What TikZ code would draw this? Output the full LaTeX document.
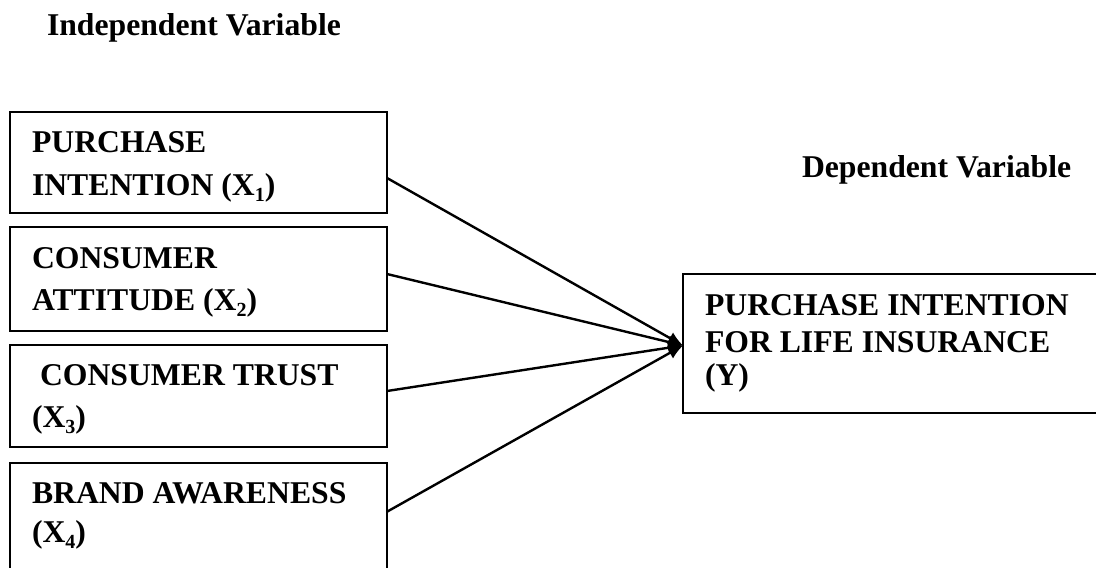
\documentclass[tikz,border=0pt]{standalone}
\usepackage{fontspec}
\setmainfont{Liberation Serif}
\usetikzlibrary{arrows.meta}
\newcommand{\subidx}[1]{\raisebox{-0.2em}{\fontsize{20}{20}\selectfont #1}}
\tikzset{
  varbox/.style={draw, line width=2pt, inner sep=0pt, outer sep=0pt, anchor=north west},
  lbl/.style={anchor=base west, inner sep=0pt, outer sep=0pt, font=\bfseries\fontsize{31.7}{38}\selectfont},
  link/.style={line width=2.4pt, -{Latex[length=15pt,width=13pt]}}
}
\begin{document}
\begin{tikzpicture}[x=1pt,y=-1pt]
\useasboundingbox (0,0) rectangle (1096,568);
\clip (0,0) rectangle (1096,568);
% headings
\node[lbl] (hind) at (47,35) {Independent Variable};
\node[lbl] (hdep) at (802,177) {Dependent Variable};
% independent boxes
\node[varbox, minimum width=377.5pt, minimum height=101pt] (b1) at (9.5,112) {};
\node[varbox, minimum width=377.5pt, minimum height=104pt] (b2) at (9.5,227) {};
\node[varbox, minimum width=377.5pt, minimum height=102pt] (b3) at (9.5,345) {};
\node[varbox, minimum width=377pt, minimum height=160pt] (b4) at (9.5,463) {};
% dependent box
\node[varbox, minimum width=460pt, minimum height=139pt] (yb) at (683,274) {};
% texts
\node[lbl] (t1a) at (32,152) {PURCHASE};
\node[lbl] (t1b) at (32,195) {INTENTION (X\subidx{1})};
\node[lbl] (t2a) at (32,268) {CONSUMER};
\node[lbl] (t2b) at (32,310) {ATTITUDE (X\subidx{2})};
\node[lbl] (t3a) at (40,385) {CONSUMER TRUST};
\node[lbl] (t3b) at (32,427) {(X\subidx{3})};
\node[lbl] (t4a) at (32,503) {BRAND AWARENESS};
\node[lbl] (t4b) at (32,542) {(X\subidx{4})};
\node[lbl] (tya) at (705,315) {PURCHASE INTENTION};
\node[lbl] (tyb) at (705,352) {FOR LIFE INSURANCE};
\node[lbl] (tyc) at (705,385) {(Y)};
% connectors
\coordinate (tip) at ([yshift=-2pt]yb.west);
\draw[link] ([yshift=-15.5pt]b1.east) -- (tip);
\draw[link] ([yshift=5pt]b2.east) -- (tip);
\draw[link] ([yshift=5pt]b3.east) -- (tip);
\draw[link] ([yshift=31pt]b4.east) -- (tip);
\end{tikzpicture}
\end{document}
